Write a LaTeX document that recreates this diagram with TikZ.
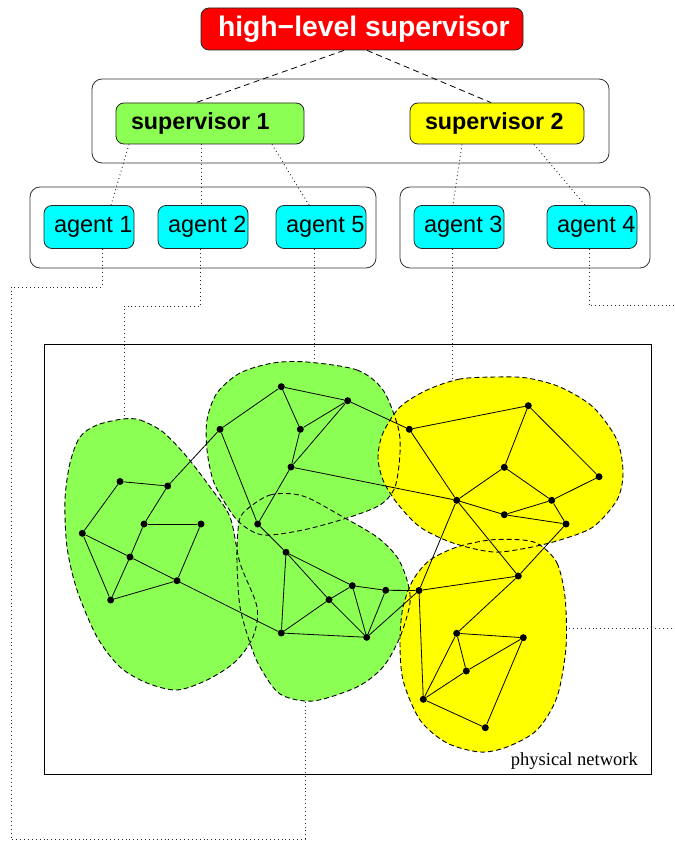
\documentclass[tikz,border=0pt]{standalone}
\usepackage{fontspec}
\setmainfont{Liberation Serif}
\setsansfont{Liberation Sans}
\definecolor{sgreen}{RGB}{140,255,85}
\definecolor{syellow}{RGB}{255,255,0}
\definecolor{scyan}{RGB}{0,255,255}
\definecolor{sred}{RGB}{255,0,0}
\begin{document}
\begin{tikzpicture}[x=1pt,y=-1pt,
  box/.style={draw=black!85, line width=0.8pt, rounded corners=8pt, inner ysep=0pt},
  frame/.style={draw=black!80, line width=0.8pt, rounded corners=10pt, inner sep=0pt},
  agentbox/.style={box, fill=scyan, minimum height=43pt, inner xsep=10pt, font=\sffamily\fontsize{23.5}{26}\selectfont},
  supbox/.style={box, minimum height=41pt, inner xsep=15pt, font=\sffamily\bfseries\fontsize{23.3}{26}\selectfont},
  vtx/.style={circle, fill=black, inner sep=0pt, minimum size=7pt},
  edge/.style={line width=0.8pt},
  blobline/.style={line width=0.9pt, dash pattern=on 5pt off 3pt},
  dotl/.style={line width=0.9pt, dash pattern=on 0.9pt off 3pt, black!85},
  dashl/.style={line width=0.8pt, dash pattern=on 6pt off 4pt}]
\useasboundingbox (0,0) rectangle (674,842);

% ---------- hierarchy ----------
\node[box, fill=sred, minimum height=42pt, inner xsep=17pt, text=white,
      font=\sffamily\bfseries\fontsize{28.3}{30}\selectfont] (hl) at (362,29)
      {\makebox[288pt][l]{high−level supervisor}};
\node[frame, minimum width=517pt, minimum height=84pt] (supframe) at (350.5,121) {};
\node[supbox, fill=sgreen] (s1) at (210,123.5) {\makebox[158pt][l]{supervisor 1}};
\node[supbox, fill=syellow] (s2) at (497,123.5) {\makebox[144pt][l]{supervisor 2}};
\node[frame, minimum width=346pt, minimum height=81pt] (agframe1) at (203,227.5) {};
\node[frame, minimum width=250pt, minimum height=81pt] (agframe2) at (525,227.5) {};
\node[agentbox] (a1) at (89,227) {\makebox[70pt][l]{agent 1}};
\node[agentbox] (a2) at (203,227) {\makebox[70pt][l]{agent 2}};
\node[agentbox] (a5) at (321,227) {\makebox[70pt][l]{agent 5}};
\node[agentbox] (a3) at (459,227) {\makebox[70pt][l]{agent 3}};
\node[agentbox] (a4) at (592,227) {\makebox[70pt][l]{agent 4}};

\draw[dashl] (hl.south -| 344,0) -- (s1.north -| 196,0);
\draw[dashl] (hl.south -| 367,0) -- (s2.north -| 491,0);
\draw[dotl] (s1.south -| 129,0) -- (a1.north -| 111,0);
\draw[dotl] (s1.south -| 201,0) -- (a2.north -| 201,0);
\draw[dotl] (s1.south -| 272,0) -- (a5.north -| 309,0);
\draw[dotl] (s2.south -| 462,0) -- (a3.north -| 453,0);
\draw[dotl] (s2.south -| 534,0) -- (a4.north -| 585,0);

% ---------- physical network ----------
\node[draw, line width=0.9pt, minimum width=607pt, minimum height=430pt, inner sep=0pt] (net) at (347.5,559) {};
\node[anchor=base east, font=\fontsize{18.5}{20}\selectfont, inner sep=0pt] (netlabel) at (638,765) {physical network};

% regions: fills
\def\gone{(123,419) (140,420) (163,432) (187,457) (210,487) (230,517) (240,563) (257,607) (253,637) (235,662) (207,680) (177,690) (147,683) (120,667) (97,637) (77,590) (67,547) (65,500) (70,463) (80,437) (97,425)}
\def\gtwo{(307,362) (357,370) (383,390) (398,427) (400,453) (395,487) (380,505) (347,518) (303,530) (263,535) (240,523) (225,503) (213,480) (207,450) (207,420) (217,393) (240,373) (273,363)}
\def\gthree{(243,513) (270,495) (303,496) (343,517) (377,537) (397,557) (407,580) (410,603) (400,637) (383,667) (357,687) (313,701) (280,694) (260,667) (250,643) (240,607) (237,563) (238,530)}
\def\yone{(497,377) (460,379) (427,390) (400,407) (383,433) (378,457) (383,480) (397,503) (420,527) (453,543) (493,552) (527,548) (560,540) (593,527) (617,500) (623,473) (617,440) (593,407) (560,387) (527,378)}
\def\ytwo{(540,545) (557,563) (565,597) (566,647) (557,697) (537,730) (507,747) (480,752) (447,743) (420,720) (403,680) (400,640) (403,607) (413,580) (430,560) (457,547) (490,540) (523,540)}
\fill[sgreen] plot[smooth cycle] coordinates {\gone};
\fill[sgreen] plot[smooth cycle] coordinates {\gtwo};
\fill[sgreen] plot[smooth cycle] coordinates {\gthree};
\fill[syellow] plot[smooth cycle] coordinates {\yone};
\fill[syellow] plot[smooth cycle] coordinates {\ytwo};
\draw[blobline] plot[smooth cycle] coordinates {\gone};
\draw[blobline] plot[smooth cycle] coordinates {\gtwo};
\draw[blobline] plot[smooth cycle] coordinates {\gthree};
\draw[blobline] plot[smooth cycle] coordinates {\yone};
\draw[blobline] plot[smooth cycle] coordinates {\ytwo};

% vertices
\node[vtx] (A1) at (281.3,386.7) {};
\node[vtx] (A2) at (347.7,400.7) {};
\node[vtx] (A3) at (220,429.3) {};
\node[vtx] (A4) at (300.3,429.3) {};
\node[vtx] (A5) at (291,467) {};
\node[vtx] (A6) at (409.3,429.3) {};
\node[vtx] (B1) at (120,481.5) {};
\node[vtx] (B2) at (167.7,486) {};
\node[vtx] (B3) at (144,524) {};
\node[vtx] (B4) at (201,524) {};
\node[vtx] (B5) at (82.3,533.3) {};
\node[vtx] (B6) at (257.7,524) {};
\node[vtx] (B7) at (286,552.3) {};
\node[vtx] (B8) at (130,557) {};
\node[vtx] (B9) at (177,580.7) {};
\node[vtx] (B10) at (110.7,600) {};
\node[vtx] (C1) at (352.3,585.7) {};
\node[vtx] (C2) at (385.7,590.3) {};
\node[vtx] (C3) at (329,599.7) {};
\node[vtx] (C4) at (281.3,633) {};
\node[vtx] (C5) at (366.7,637.3) {};
\node[vtx] (D) at (419,590.5) {};
\node[vtx] (Y1) at (528.3,405.7) {};
\node[vtx] (Y2) at (504.3,467.3) {};
\node[vtx] (Y3) at (599,476.7) {};
\node[vtx] (Y4) at (456.7,500.3) {};
\node[vtx] (Y5) at (551.7,500.3) {};
\node[vtx] (Y6) at (504.3,514.7) {};
\node[vtx] (Y7) at (566,524) {};
\node[vtx] (E1) at (518.3,576) {};
\node[vtx] (E2) at (456.7,633.3) {};
\node[vtx] (E3) at (523.3,637.7) {};
\node[vtx] (E4) at (466.3,671) {};
\node[vtx] (E5) at (423.3,699.3) {};
\node[vtx] (E6) at (485.3,727.7) {};

% edges
\foreach \u/\v in {B1/B2,B1/B5,B2/B3,B2/A3,B3/B4,B3/B8,B4/B9,B5/B8,B8/B9,B5/B10,B8/B10,B10/B9,B9/C4,
  A1/A3,A1/A2,A1/A4,A2/A4,A2/A5,A2/A6,A4/A5,A5/B6,A3/B6,A5/Y4,
  A6/Y1,A6/Y4,Y1/Y2,Y1/Y3,Y2/Y4,Y2/Y5,Y3/Y5,Y4/Y6,Y6/Y5,Y5/Y7,Y6/Y7,Y4/D,Y4/E1,Y7/E1,
  B6/B7,B7/C1,B7/C3,B7/C4,C1/C2,C1/C3,C1/C5,C2/C5,C2/D,C3/C4,C3/C5,C4/C5,C5/D,
  D/E1,D/E5,E1/E2,E2/E3,E2/E4,E2/E5,E3/E4,E4/E5,E5/E6,E3/E6}
  \draw[edge] (\u) -- (\v);

% connectors from agents to regions
\coordinate (g1top) at (124,418.5);
\coordinate (g2top) at (314,362.5);
\coordinate (g3bot) at (305,700.5);
\coordinate (y1top) at (452,380.5);
\coordinate (y2right) at (566,628);
\draw[dotl] (a1.south -| 102,0) -- (102,287) -- (11,287) -- (11,839) -- (305,839) -- (g3bot);
\draw[dotl] (a2.south -| 200,0) -- (200,306) -- (124,306) -- (g1top);
\draw[dotl] (a5.south -| 314,0) -- (g2top);
\draw[dotl] (a3.south -| 452,0) -- (y1top);
\begin{scope}
\clip (0,0) rectangle (674,842);
\draw[dotl] (a4.south -| 589,0) -- (589,305) -- (700,305) -- (700,628) -- (y2right);
\end{scope}
\end{tikzpicture}
\end{document}
